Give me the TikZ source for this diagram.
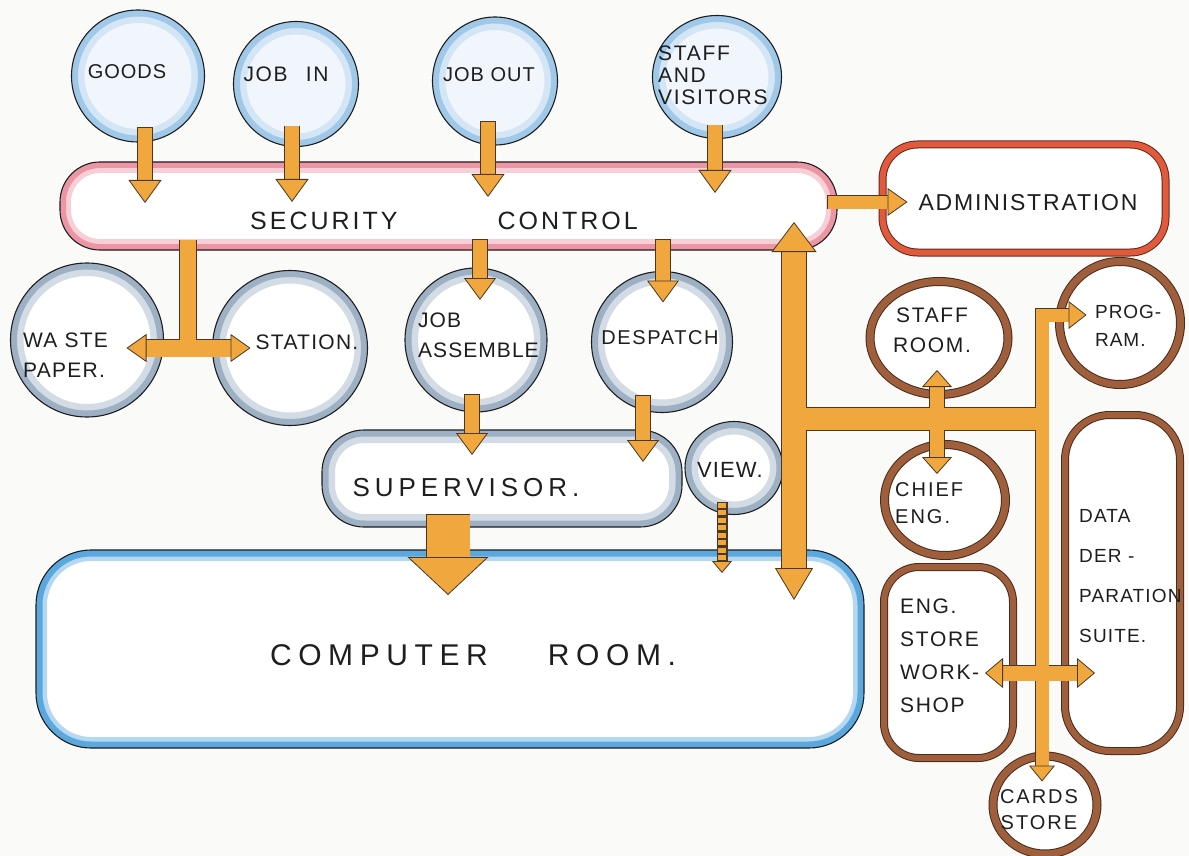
\documentclass[tikz,border=0pt]{standalone}
\usepackage{fontspec}
\newfontfamily\hand{Liberation Sans}
\usetikzlibrary{shapes.geometric,calc,arrows.meta}
\definecolor{paper}{RGB}{250,250,248}
\definecolor{ink}{RGB}{30,30,30}
\definecolor{org}{RGB}{240,168,62}
\definecolor{dk}{RGB}{75,55,35}
\definecolor{rimblue}{RGB}{160,200,232}
\definecolor{topfill}{RGB}{240,246,251}
\definecolor{rimgray}{RGB}{158,176,196}
\definecolor{rimpink}{RGB}{236,150,165}
\definecolor{compblue}{RGB}{90,168,222}
\definecolor{brn}{RGB}{160,95,60}
\definecolor{admred}{RGB}{225,90,60}
\newcommand\hf[3]{\hand\addfontfeature{LetterSpace=#2}\fontsize{#1}{#3}\selectfont}
\newcommand\blk[5]{%
  \pgfmathsetmacro\ulw{#1+1.8}%
  \draw[ul=\ulw pt, shorten <=#2pt, shorten >=#3pt] #5;
  \draw[ol=#1pt, #4] #5;}
\tikzset{
  shp/.style={inner sep=0pt, outer sep=0pt, draw=ink, line width=1.1pt},
  rimE/.style={path picture={
    \draw[#1!45, line width=26pt] let \p1=($(path picture bounding box.north east)-(path picture bounding box.center)$) in (path picture bounding box.center) ellipse [x radius=\x1, y radius=\y1];
    \draw[#1, line width=13pt] let \p1=($(path picture bounding box.north east)-(path picture bounding box.center)$) in (path picture bounding box.center) ellipse [x radius=\x1, y radius=\y1];}},
  rimR/.style n args={4}{path picture={
    \draw[#1!45, line width=#3, rounded corners=#2] (path picture bounding box.south west) rectangle (path picture bounding box.north east);
    \draw[#1, line width=#4, rounded corners=#2] (path picture bounding box.south west) rectangle (path picture bounding box.north east);}},
  topc/.style={shp, ellipse, fill=topfill, rimE=rimblue},
  grayc/.style={shp, ellipse, fill=white, rimE=rimgray},
  dble/.style={ellipse, inner sep=0pt, outer sep=0pt, draw=#1!45!black, line width=1pt, double=#1, double distance=7pt, fill=white},
  dblr/.style 2 args={rectangle, rounded corners=#2, inner sep=0pt, outer sep=0pt, draw=#1!45!black, line width=1pt, double=#1, double distance=6pt, fill=white},
  txt/.style={inner sep=0pt, text=ink},
  ul/.style={draw=dk, line width=#1},
  ol/.style={draw=org, line width=#1},
  ar/.style 2 args={arrows=-{Triangle[width=#1pt,length=#2pt,color=dk,fill=org,line width=0.8pt]}},
  arr/.style n args={4}{arrows={Triangle[width=#1pt,length=#2pt,color=dk,fill=org,line width=0.8pt]}-{Triangle[width=#3pt,length=#4pt,color=dk,fill=org,line width=0.8pt]}},
}
\begin{document}
\begin{tikzpicture}[x=1pt,y=-1pt]
\useasboundingbox (0,0) rectangle (1189,856);
\fill[paper] (0,0) rectangle (1189,856);
% ---------- shapes ----------
\node[topc, minimum width=133pt, minimum height=132pt] (goods) at (138,76) {};
\node[topc, minimum width=125pt, minimum height=125pt] (jobin) at (296,84) {};
\node[topc, minimum width=125pt, minimum height=128pt] (jobout) at (495,81) {};
\node[topc, minimum width=129pt, minimum height=123pt] (staff) at (717,77) {};
\node[shp, rectangle, rounded corners=40pt, fill=white, rimR={rimpink}{40pt}{22pt}{12pt}, minimum width=777pt, minimum height=88pt] (sec) at (448.5,206) {};
\node[dblr={admred}{35pt}, minimum width=283pt, minimum height=108pt] (admin) at (1024,198.5) {};
\node[grayc, minimum width=153pt, minimum height=154pt] (waste) at (87,340) {};
\node[grayc, minimum width=155pt, minimum height=155pt] (station) at (290,348) {};
\node[grayc, minimum width=142pt, minimum height=144pt] (jobasm) at (476,340) {};
\node[grayc, minimum width=141pt, minimum height=141pt] (despatch) at (662,342) {};
\node[shp, rectangle, rounded corners=42pt, fill=white, rimR={rimgray}{42pt}{26pt}{13pt}, minimum width=360pt, minimum height=97pt] (sup) at (502,478.5) {};
\node[grayc, minimum width=98pt, minimum height=93pt] (view) at (734,468) {};
\node[shp, rectangle, rounded corners=55pt, fill=white, rimR={compblue}{55pt}{22pt}{13pt}, minimum width=828pt, minimum height=198pt] (comp) at (450,649) {};
\node[dble=brn, minimum width=138pt, minimum height=113pt] (staffroom) at (939,338) {};
\node[dble=brn, minimum width=121pt, minimum height=123pt] (prog) at (1120,323) {};
\node[dble=brn, minimum width=121pt, minimum height=111pt] (chief) at (945,500) {};
\node[dblr={brn}{35pt}, minimum width=129pt, minimum height=191pt] (engstore) at (948.5,662.5) {};
\node[dblr={brn}{45pt}, minimum width=115pt, minimum height=336pt] (data) at (1122.5,583) {};
\node[dble=brn, minimum width=104pt, minimum height=98pt] (cards) at (1045,805) {};
% ---------- connectors ----------
\blk{14}{-0.8}{21}{ar={33}{23}}{($(goods.south)+(7,-14)$) -- ($(goods.south |- sec.north)+(7,41)$)}
\blk{14}{-0.8}{21}{ar={33}{23}}{($(jobin.south)+(-4,-20)$) -- ($(jobin.south |- sec.north)+(-4,40)$)}
\blk{14}{-0.8}{21}{ar={33}{23}}{($(jobout.south)+(-7,-23)$) -- ($(jobout.south |- sec.north)+(-7,35)$)}
\blk{14}{-0.8}{21}{ar={33}{23}}{($(staff.south)+(-2,-13)$) -- ($(staff.south |- sec.north)+(-2,31)$)}
\blk{13}{-0.8}{18}{ar={28}{20}}{($(sec.east)+(-9,-4)$) -- ($(sec.east -| admin.west)+(25,-4)$)}
\blk{14}{-0.8}{20}{ar={32}{22}}{($(jobasm.north |- sec.south)+(4,-10)$) -- ($(jobasm.north)+(4,32)$)}
\blk{14}{-0.8}{20}{ar={32}{22}}{($(despatch.north |- sec.south)+(1,-10)$) -- ($(despatch.north)+(1,31)$)}
\blk{14}{-0.8}{20}{ar={32}{22}}{($(jobasm.south)+(-4,-17)$) -- ($(jobasm.south |- sup.north)+(-4,25)$)}
\blk{14}{-0.8}{20}{ar={32}{22}}{($(despatch.south)+(-19,-17)$) -- ($(despatch.south |- sup.north)+(-19,32)$)}
\blk{43}{-0.8}{36}{ar={81}{38}}{($(sup.south)+(-54,-12)$) -- ($(sup.south |- comp.north)+(-54,45)$)}
% view ladder
\draw[ul=11pt, shorten <=-0.8pt, shorten >=11pt] ($(view.south)+(-12,-12)$) -- ($(view.south |- comp.north)+(-12,23)$);
\draw[ol=8pt, dash pattern=on 5pt off 2.5pt, ar={20}{12}] ($(view.south)+(-12,-12)$) -- ($(view.south |- comp.north)+(-12,23)$);
% T junction to waste / station
\coordinate (tj) at (188,348);
\draw[ul=17.8pt] ($(tj |- sec.south)+(0,-10)$) -- (tj);
\draw[ul=18.8pt, shorten <=19pt, shorten >=19pt] ($(waste.east)+(-37,8)$) -- ($(station.west)+(38,0)$);
\draw[ol=16pt] ($(tj |- sec.south)+(0,-10)$) -- (tj);
\draw[ol=17pt, arr={28}{20}{28}{20}] ($(waste.east)+(-37,8)$) -- ($(station.west)+(38,0)$);
% right-hand network
\coordinate (bj) at (794,419);
\coordinate (bk) at (1042,419);
\draw[ul=25.8pt, shorten <=29pt, shorten >=31pt] ($(sec.south)+(345.5,-28)$) -- ($(comp.north)+(344,50)$);
\draw[ul=23.8pt] (bj) -- (bk);
\draw[ul=15.8pt, shorten <=16pt, shorten >=16pt] ($(staffroom.south)+(-2,-24.5)$) -- ($(chief.north)+(-8,29.5)$);
\draw[ul=14.8pt, shorten >=17pt] (bk) |- ($(prog.west)+(27,-8)$);
\draw[ul=14.8pt, shorten >=15pt] (bk) -- ($(cards.north)+(-3,25.5)$);
\draw[ul=16.8pt, shorten <=17pt, shorten >=17pt] ($(engstore.east)+(-28,10.5)$) -- ($(data.west)+(30,90)$);
\draw[ol=24pt, arr={45}{30}{38}{32}] ($(sec.south)+(345.5,-28)$) -- ($(comp.north)+(344,50)$);
\draw[ol=22pt] (bj) -- (bk);
\draw[ol=14pt, arr={30}{17}{30}{17}] ($(staffroom.south)+(-2,-24.5)$) -- ($(chief.north)+(-8,29.5)$);
\draw[ol=13pt, ar={28}{18}] (bk) |- ($(prog.west)+(27,-8)$);
\draw[ol=13pt, ar={26}{16}] (bk) -- ($(cards.north)+(-3,25.5)$);
\draw[ol=15pt, arr={30}{18}{30}{18}] ($(engstore.east)+(-28,10.5)$) -- ($(data.west)+(30,90)$);
% ---------- texts ----------
\node[txt, font=\hf{20}{5}{22}] (tGoods) at (127,72) {GOODS};
\node[txt, font=\hf{21}{8}{22}] (tJobin) at (286,74) {JOB\hspace{18pt}IN};
\node[txt, font=\hf{20}{5}{22}] (tJobout) at (489,75) {JOB OUT};
\node[txt, font=\hf{21}{8}{22}, align=left, anchor=west] (tStaff) at (658,75) {STAFF\\AND\\VISITORS};
\node[txt, font=\hf{25}{12}{28}] (tSec) at (444,221) {SECURITY\hspace{100pt}CONTROL};
\node[txt, font=\hf{23}{8}{25}] (tAdmin) at (1028,203) {ADMINISTRATION};
\node[txt, font=\hf{21}{6}{30}, align=left, anchor=west] (tWaste) at (23,355) {WA STE\\PAPER.};
\node[txt, font=\hf{21}{6}{23}] (tStation) at (307,342) {STATION.};
\node[txt, font=\hf{21}{5}{30}, align=left, anchor=west] (tJobasm) at (418,335) {JOB\\ASSEMBLE};
\node[txt, font=\hf{20}{8}{22}] (tDesp) at (660,338) {DESPATCH};
\node[txt, font=\hf{26}{19}{28}] (tSup) at (466,488) {SUPERVISOR.};
\node[txt, font=\hf{22}{5}{24}] (tView) at (730,470) {VIEW.};
\node[txt, font=\hf{30}{22}{32}] (tComp) at (473,655) {COMPUTER\hspace{60pt}ROOM.};
\node[txt, font=\hf{21}{8}{30}, align=center] (tStaffroom) at (932,330) {STAFF\\ROOM.};
\node[txt, font=\hf{19}{5}{28}, align=left, anchor=west] (tProg) at (1095,326) {PROG-\\RAM.};
\node[txt, font=\hf{20}{10}{27}, align=left, anchor=west] (tChief) at (895,503) {CHIEF\\ENG.};
\node[txt, font=\hf{19}{6}{40}, align=left, anchor=west] (tData) at (1079,576) {DATA\\DER -\\PARATION\\SUITE.};
\node[txt, font=\hf{21}{8}{33}, align=left, anchor=west] (tEng) at (900,656) {ENG.\\STORE\\WORK-\\SHOP};
\node[txt, font=\hf{20}{10}{26}, align=center] (tCards) at (1039,810) {CARDS\\STORE};
\end{tikzpicture}
\end{document}
